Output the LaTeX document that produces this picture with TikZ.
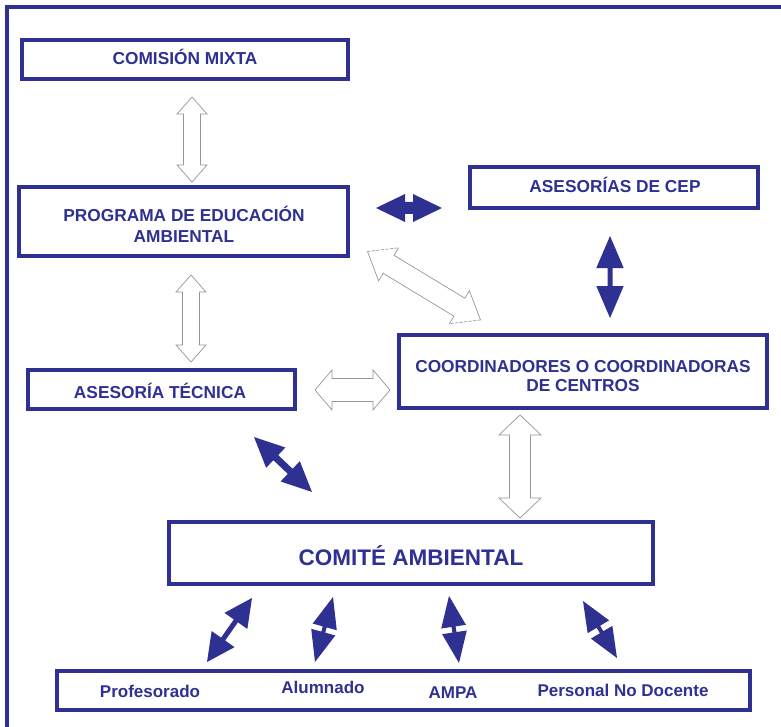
\documentclass[tikz,border=0pt]{standalone}
\usepackage{fontspec}
\setmainfont{Liberation Sans}
\definecolor{navy}{RGB}{46,49,146}
\definecolor{arrowgray}{RGB}{150,150,150}
\newcommand\baSetup[2]{%
  \path (#1); \pgfgetlastxy{\baAx}{\baAy}%
  \path (#2); \pgfgetlastxy{\baBx}{\baBy}%
  \pgfmathsetmacro\baAng{atan2((\baBy)-(\baAy),(\baBx)-(\baAx))}%
  \pgfmathsetmacro\baLen{veclen((\baBx)-(\baAx),(\baBy)-(\baAy))}}
% block double arrow between two named coordinates
% #1 style, #2 from, #3 to, #4 head length, #5 head half width, #6 shaft half width
\newcommand\blockarrow[6][]{%
  \baSetup{#2}{#3}%
  \begin{scope}[shift={(#2)},rotate=\baAng]
    \path[#1] (0,0) -- (#4,#5) -- (#4,#6) -- ({\baLen-#4},#6) -- ({\baLen-#4},#5)
      -- (\baLen,0) -- ({\baLen-#4},-#5) -- ({\baLen-#4},-#6) -- (#4,-#6) -- (#4,-#5) -- cycle;
  \end{scope}}
% hollow block arrow with two dashed head edges
\newcommand\dashedblockarrow[5]{%
  \baSetup{#1}{#2}%
  \begin{scope}[shift={(#1)},rotate=\baAng]
    \path[fill=white] (0,0) -- (#3,#4) -- (#3,#5) -- ({\baLen-#3},#5) -- ({\baLen-#3},#4)
      -- (\baLen,0) -- ({\baLen-#3},-#4) -- ({\baLen-#3},-#5) -- (#3,-#5) -- (#3,-#4) -- cycle;
    \draw[hollowline] (#3,#4) -- (#3,#5) -- ({\baLen-#3},#5) -- ({\baLen-#3},#4) -- (\baLen,0);
    \draw[hollowline] ({\baLen-#3},-#4) -- ({\baLen-#3},-#5) -- (#3,-#5) -- (#3,-#4) -- (0,0);
    \draw[hollowline,dash pattern=on 3pt off 1.5pt] (\baLen,0) -- ({\baLen-#3},-#4);
    \draw[hollowline,dash pattern=on 3pt off 1.5pt] (0,0) -- (#3,#4);
  \end{scope}}
\begin{document}
\begin{tikzpicture}[x=1pt,y=1pt,
  box/.style={draw=navy, line width=4pt, inner sep=0pt, fill=white},
  lbl/.style={text=navy, font=\fontsize{17.3}{21}\selectfont\bfseries, anchor=base, inner sep=0pt},
  biglbl/.style={lbl, font=\fontsize{22.5}{26}\selectfont\bfseries},
  smalllbl/.style={lbl, font=\fontsize{17}{20}\selectfont\bfseries},
  hollowline/.style={draw=arrowgray, line width=0.7pt, line join=miter},
  hollow/.style={hollowline, fill=white},
  solidarrow/.style={fill=navy, draw=none}]
\useasboundingbox (0,0) rectangle (781,-727);
% outer frame
\draw[navy, line width=3.5pt] (790,-7) -- (7,-7) -- (7,-740);
% boxes
\node[box, minimum width=326pt, minimum height=39pt] (cm) at (185,-59.5) {};
\node[box, minimum width=329pt, minimum height=69pt] (pea) at (183.5,-221.5) {};
\node[box, minimum width=288pt, minimum height=41pt] (cep) at (614,-187.5) {};
\node[box, minimum width=368pt, minimum height=73pt] (coord) at (583,-371.5) {};
\node[box, minimum width=267pt, minimum height=39pt] (at) at (161.5,-389.5) {};
\node[box, minimum width=484pt, minimum height=62pt] (comite) at (411,-553) {};
\node[box, minimum width=693pt, minimum height=39pt] (bottom) at (403.5,-690.5) {};
% labels
\node[lbl] (cmt) at (185,-65) {COMISIÓN MIXTA};
\node[lbl] (peat1) at (184,-222) {PROGRAMA DE EDUCACIÓN};
\node[lbl] (peat2) at (184,-243) {AMBIENTAL};
\node[lbl] (cept) at (615,-193) {ASESORÍAS DE CEP};
\node[lbl] (coordt1) at (583,-372) {COORDINADORES O COORDINADORAS};
\node[lbl] (coordt2) at (583,-391) {DE CENTROS};
\node[lbl] (att) at (160,-398) {ASESORÍA TÉCNICA};
\node[biglbl] (comt) at (411,-565) {COMITÉ AMBIENTAL};
\node[smalllbl] (prof) at (150,-697) {Profesorado};
\node[smalllbl] (alum) at (323,-693) {Alumnado};
\node[smalllbl] (ampa) at (453,-698) {AMPA};
\node[smalllbl] (pnd) at (623,-696) {Personal No Docente};
% arrow end points
\coordinate (a1s) at (192,-97);   \coordinate (a1e) at (192,-182);
\coordinate (a2s) at (191,-275);  \coordinate (a2e) at (191,-362);
\coordinate (a3s) at (315,-390);  \coordinate (a3e) at (390,-390);
\coordinate (a4s) at (367.5,-251.5); \coordinate (a4e) at (480.5,-320);
\coordinate (a5s) at (520,-415);  \coordinate (a5e) at (520,-518);
\coordinate (b1s) at (376,-208);  \coordinate (b1e) at (442,-208);
\coordinate (b2s) at (610,-236);  \coordinate (b2e) at (610,-318);
\coordinate (b3s) at (254,-437);  \coordinate (b3e) at (312,-492);
\coordinate (b4s) at (207,-662);  \coordinate (b4e) at (252,-598);
\coordinate (b5s) at (315,-662);  \coordinate (b5e) at (333,-597);
\coordinate (b6s) at (449,-596);  \coordinate (b6e) at (459,-663);
\coordinate (b7s) at (583,-601);  \coordinate (b7e) at (617,-658);
% hollow arrows
\blockarrow[hollow]{a1s}{a1e}{17}{15}{8.5}
\blockarrow[hollow]{a2s}{a2e}{17}{15}{8.5}
\blockarrow[hollow]{a3s}{a3e}{17}{20}{11.5}
\blockarrow[hollow]{a5s}{a5e}{20}{21}{10.5}
\dashedblockarrow{a4s}{a4e}{24.7}{19.3}{10.5}
% solid arrows
\blockarrow[solidarrow]{b1s}{b1e}{29}{14}{6}
\blockarrow[solidarrow]{b2s}{b2e}{32}{13.7}{2.5}
\blockarrow[solidarrow]{b3s}{b3e}{30}{14}{3.5}
\blockarrow[solidarrow]{b4s}{b4e}{28}{14}{2.5}
\blockarrow[solidarrow]{b5s}{b5e}{31}{12.5}{2}
\blockarrow[solidarrow]{b6s}{b6e}{31}{12.5}{2}
\blockarrow[solidarrow]{b7s}{b7e}{30}{12.5}{2}
\end{tikzpicture}
\end{document}
